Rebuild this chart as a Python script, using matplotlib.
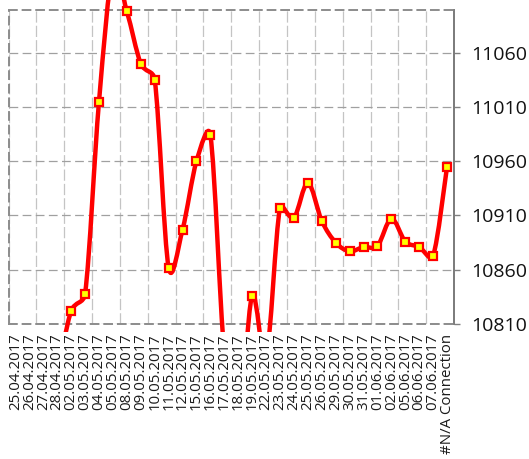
import matplotlib.pyplot as plt
from matplotlib.path import Path
from matplotlib.patches import PathPatch, Rectangle
import numpy as np

# --- data ---
dates = ['25.04.2017', '26.04.2017', '27.04.2017', '28.04.2017', '02.05.2017',
         '03.05.2017', '04.05.2017', '05.05.2017', '08.05.2017', '09.05.2017',
         '10.05.2017', '11.05.2017', '12.05.2017', '15.05.2017', '16.05.2017',
         '17.05.2017', '18.05.2017', '19.05.2017', '22.05.2017', '23.05.2017',
         '24.05.2017', '25.05.2017', '26.05.2017', '29.05.2017', '30.05.2017',
         '31.05.2017', '01.06.2017', '02.06.2017', '05.06.2017', '06.06.2017',
         '07.06.2017', '#N/A Connection']
values = [10755, 10745, 10750, 10768, 10822,
          10838, 11015, 11135, 11098, 11050,
          11035, 10862, 10897, 10960, 10984,
          10783, 10715, 10836, 10779, 10917,
          10908, 10940, 10905, 10885, 10877,
          10881, 10882, 10907, 10886, 10881,
          10873, 10955]
y_ticks = [10810, 10860, 10910, 10960, 11010, 11060]

plt.rcParams['font.family'] = ['Open Sans', 'DejaVu Sans']

fig = plt.figure(figsize=(5.29, 4.59), dpi=100)
ax = fig.add_axes([0.0161, 0.2941, 0.8422, 0.6841])

ax.set_xlim(-0.5, len(values) - 0.5)
ax.set_ylim(10810, 11099.3)

x = np.arange(len(values), dtype=float)
y = np.array(values, dtype=float)

# smoothed line like Excel's: bezier segments built in pixel space,
# control arms 1/6 of the neighbour chord, capped at half the segment
P = ax.transData.transform(np.column_stack([x, y]))
Pp = np.vstack([P[0], P, P[-1]])
verts = [P[0]]
codes = [Path.MOVETO]
for i in range(len(P) - 1):
    p0, p1, p2, p3 = Pp[i], Pp[i + 1], Pp[i + 2], Pp[i + 3]
    d12 = np.hypot(*(p2 - p1))
    d02 = np.hypot(*(p2 - p0))
    d13 = np.hypot(*(p3 - p1))
    f0 = min(1 / 6, d12 / 2 / d02) if d02 > 0 else 0
    f1 = min(1 / 6, d12 / 2 / d13) if d13 > 0 else 0
    verts += [p1 + (p2 - p0) * f0, p2 - (p3 - p1) * f1, p2]
    codes += [Path.CURVE4] * 3
verts = ax.transData.inverted().transform(np.array(verts))

# Excel lets the series spill past the plot area a little
clip = Rectangle((-0.01, -0.025), 1.02, 2.0, transform=ax.transAxes)

curve = PathPatch(Path(verts, codes), fill=False, edgecolor='#ff0000',
                  lw=3.2, capstyle='round', joinstyle='round', zorder=3)
ax.add_patch(curve)
curve.set_clip_path(clip)

pts, = ax.plot(x, y, 's', ms=6.4, mfc='#ffff00', mec='#ff0000', mew=1.6, zorder=4)
pts.set_clip_path(clip)

# x axis: category labels, gridlines every second category boundary
ax.set_xticks(x)
ax.set_xticklabels(dates, rotation=90, fontsize=10.8, color='#1a1a1a')
ax.set_xticks(np.arange(-0.5, len(values), 2), minor=True)
ax.tick_params(axis='x', which='both', length=0, pad=7)

# y axis on the right
ax.yaxis.tick_right()
ax.set_yticks(y_ticks)
ax.set_yticklabels([str(v) for v in y_ticks], fontsize=14, color='#111111')
ax.tick_params(axis='y', length=4.5, width=1, color='#808080', pad=8)

ax.grid(axis='y', which='major', color='#a0a0a0', lw=0.9, linestyle=(0, (7, 3.5)))
ax.grid(axis='x', which='minor', color='#c4c4c4', lw=0.9, linestyle=(0, (9, 2.5)))
ax.set_axisbelow(True)

for side in ['left', 'top', 'bottom']:
    ax.spines[side].set_color('#8c8c8c')
    ax.spines[side].set_linewidth(1.4)
    ax.spines[side].set_linestyle((0, (4, 3)))
ax.spines['right'].set_color('#7a7a7a')
ax.spines['right'].set_linewidth(1.4)

fig.savefig('out.png', dpi=100)
